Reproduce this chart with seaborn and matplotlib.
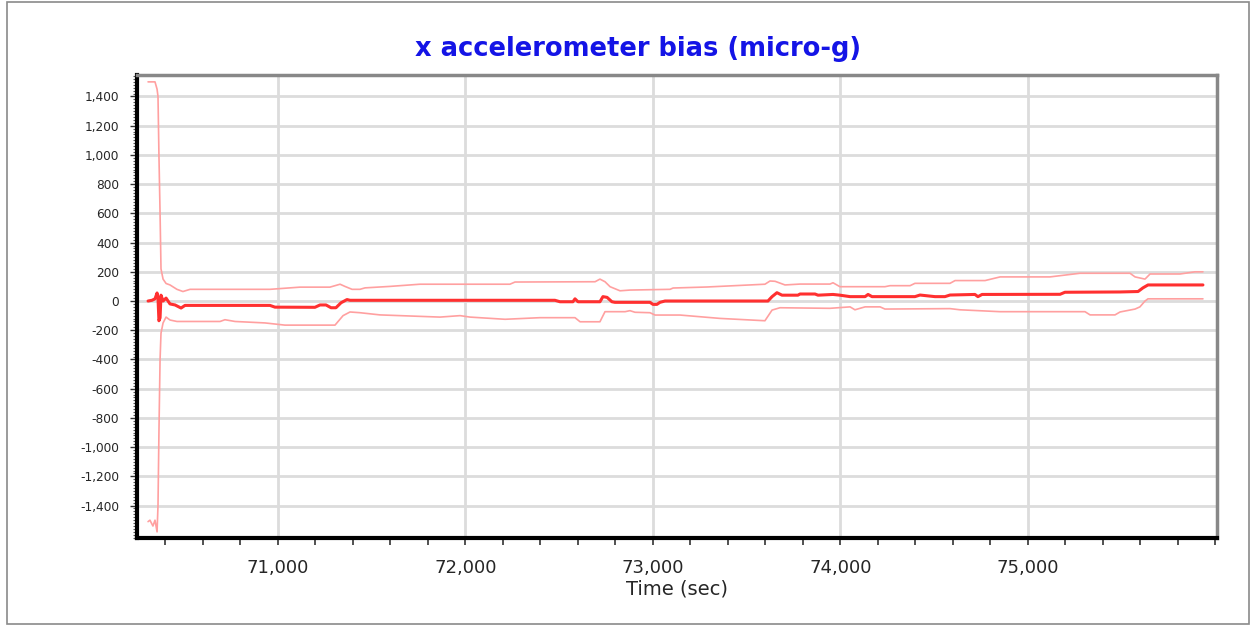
import numpy as np
import pandas as pd
import matplotlib
matplotlib.use("Agg")
import matplotlib.pyplot as plt
from matplotlib.patches import Rectangle
from matplotlib.ticker import FuncFormatter, MultipleLocator
import seaborn as sns

# bias estimate (micro-g)
bias_t = [70307, 70328, 70344, 70355, 70360, 70365, 70371, 70376, 70387, 70403,
          70424, 70451, 70483, 70504, 70957, 70984, 71197, 71224, 71256, 71283,
          71309, 71336, 71368, 71384, 72477, 72504, 72573, 72584, 72600, 72717,
          72733, 72755, 72781, 72797, 72984, 73000, 73021, 73037, 73064, 73613,
          73635, 73661, 73688, 73773, 73784, 73864, 73880, 73960, 73997, 74051,
          74131, 74147, 74168, 74397, 74424, 74504, 74557, 74584, 74717, 74733,
          74755, 75171, 75197, 75491, 75587, 75613, 75640, 75933]
bias_v = [0, 5, 15, 55, 20, -135, -115, 40, 0, 20,
          -20, -27, -48, -30, -30, -42, -43, -27, -27, -46,
          -46, -12, 10, 5, 5, -5, -5, 15, -5, -5,
          30, 25, -5, -9, -9, -23, -23, -9, 0, 0,
          30, 57, 40, 40, 48, 48, 40, 45, 40, 30,
          30, 45, 30, 30, 41, 30, 30, 41, 45, 30,
          45, 46, 60, 62, 65, 90, 110, 110]

# upper bound
upper_t = [70307, 70344, 70355, 70360, 70365, 70371, 70376, 70387, 70403, 70424,
           70461, 70493, 70531, 70957, 71117, 71277, 71331, 71357, 71395, 71437,
           71464, 71597, 71757, 72237, 72264, 72691, 72717, 72744, 72771, 72824,
           72877, 73091, 73107, 73288, 73597, 73624, 73651, 73704, 73784, 73944,
           73960, 73997, 74237, 74264, 74371, 74397, 74584, 74611, 74771, 74851,
           75117, 75277, 75544, 75571, 75624, 75651, 75811, 75891, 75933]
upper_v = [1500, 1500, 1450, 1400, 1000, 600, 220, 150, 120, 110,
           80, 65, 80, 80, 95, 95, 115, 100, 80, 80,
           90, 100, 115, 115, 130, 132, 150, 132, 98, 70,
           75, 80, 89, 96, 115, 137, 135, 110, 116, 116,
           125, 98, 98, 105, 105, 121, 121, 140, 140, 165,
           165, 190, 190, 165, 150, 185, 185, 200, 200]

# lower bound
lower_t = [70307, 70317, 70333, 70344, 70355, 70360, 70365, 70371, 70376, 70387,
           70403, 70424, 70461, 70691, 70717, 70771, 70931, 71037, 71304, 71347,
           71384, 71437, 71544, 71864, 71971, 72024, 72211, 72397, 72584, 72611,
           72717, 72744, 72851, 72877, 72904, 72984, 73011, 73144, 73357, 73597,
           73635, 73677, 73944, 74051, 74077, 74131, 74211, 74237, 74584, 74637,
           74851, 75304, 75331, 75464, 75491, 75571, 75597, 75624, 75640, 75933]
lower_v = [-1510, -1500, -1540, -1500, -1580, -1400, -900, -400, -220, -150,
           -110, -130, -140, -140, -128, -140, -150, -165, -165, -100,
           -75, -80, -95, -110, -100, -110, -125, -114, -114, -142,
           -142, -73, -73, -66, -77, -80, -96, -96, -119, -135,
           -62, -46, -50, -40, -60, -40, -40, -55, -52, -60,
           -73, -73, -95, -95, -75, -55, -40, 0, 15, 15]

W, H = 1251, 626
sns.set_style("white")
plt.rcParams["font.family"] = ["DejaVu Sans"]
plt.rcParams["axes.unicode_minus"] = False

fig = plt.figure(figsize=(W / 100, H / 100), dpi=100)
ax = fig.add_axes([137 / W, 1 - 538 / H, (1217 - 137) / W, (538 - 75) / H])

band = "#ffa0a0"
sns.lineplot(x=upper_t, y=upper_v, ax=ax, color=band, linewidth=1.2, sort=False)
sns.lineplot(x=lower_t, y=lower_v, ax=ax, color=band, linewidth=1.2, sort=False)
sns.lineplot(x=bias_t, y=bias_v, ax=ax, color="#ff3030", linewidth=2.2, sort=False)

ax.set_xlim(70248, 76008)
ax.set_ylim(-1622, 1547)
ax.set_xticks([71000, 72000, 73000, 74000, 75000])
ax.set_yticks(range(-1400, 1401, 200))
ax.xaxis.set_minor_locator(MultipleLocator(200))
ax.yaxis.set_minor_locator(MultipleLocator(20))
fmt = FuncFormatter(lambda v, p: f"{int(v):,}")
ax.xaxis.set_major_formatter(fmt)
ax.yaxis.set_major_formatter(fmt)
ax.grid(True, which="major", color="#dcdcdc", linewidth=2)
ax.set_axisbelow(True)

ax.tick_params(axis="x", which="both", direction="out", length=5, width=1.2,
               color="#333333", labelsize=13, pad=10, bottom=True)
ax.tick_params(axis="y", which="major", direction="out", length=5, width=1,
               color="#333333", labelsize=8.7, pad=8, left=True)
ax.tick_params(axis="y", which="minor", direction="out", length=3, width=0.8,
               color="#555555", left=True)

for side in ["left", "bottom"]:
    ax.spines[side].set_color("black")
    ax.spines[side].set_linewidth(3)
for side in ["top", "right"]:
    ax.spines[side].set_color("#888888")
    ax.spines[side].set_linewidth(2.5)

ax.set_xlabel("Time (sec)", fontsize=14, labelpad=2)
ax.set_ylabel("")
fig.text(638 / W, 1 - 49 / H, "x accelerometer bias (micro-g)", color="#1414e6",
         fontsize=18.5, fontweight="bold", ha="center", va="center")

fig.patches.append(Rectangle((7 / W, 2 / H), (1249 - 7) / W, (624 - 2) / H,
                             transform=fig.transFigure, fill=False,
                             edgecolor="#8a8a8a", linewidth=1.2))

fig.savefig("out.png", dpi=100)
